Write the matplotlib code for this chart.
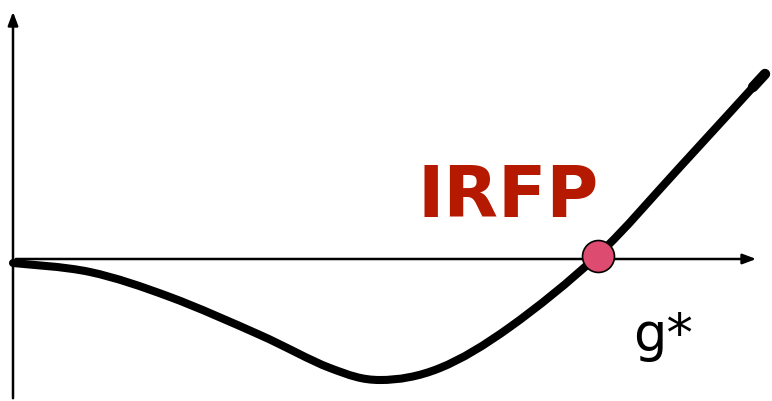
import numpy as np
import matplotlib
matplotlib.use("Agg")
import matplotlib.pyplot as plt
from matplotlib.path import Path
from matplotlib.patches import PathPatch

# curve (pixel-like coords, y grows downward)
curve_x = [13, 90, 170, 260, 330, 380, 440, 510, 598, 680, 765]
curve_y = [263, 272, 297, 335, 368, 380, 368, 327, 255, 167, 74]

fixed_point = (598, 256)
label_main = "IRFP"
label_g = "g*"


def smooth_path(xs, ys):
    # catmull-rom through the points, handed to matplotlib as bezier segments
    pts = np.column_stack([xs, ys]).astype(float)
    verts = [pts[0]]
    codes = [Path.MOVETO]
    for i in range(len(pts) - 1):
        p0 = pts[max(i - 1, 0)]
        p1 = pts[i]
        p2 = pts[i + 1]
        p3 = pts[min(i + 2, len(pts) - 1)]
        verts += [p1 + (p2 - p0) / 6, p2 - (p3 - p1) / 6, p2]
        codes += [Path.CURVE4] * 3
    return Path(verts, codes)


fig = plt.figure(figsize=(7.72, 4.01), dpi=100)
ax = fig.add_axes([0, 0, 1, 1])
ax.set_xlim(0, 772)
ax.set_ylim(401, 0)
ax.axis("off")

# axes arrows
ax.annotate("", xy=(13, 9), xytext=(13, 401),
            arrowprops=dict(arrowstyle="-|>,head_length=0.8,head_width=0.3", lw=1.8, color="black"))
ax.annotate("", xy=(759, 259), xytext=(13, 259),
            arrowprops=dict(arrowstyle="-|>,head_length=0.8,head_width=0.3", lw=1.8, color="black"))

ax.add_patch(PathPatch(smooth_path(curve_x, curve_y), fill=False, edgecolor="black",
                       lw=5.8, capstyle="round", joinstyle="round"))
# slightly heavier tip at the end of the stroke
ax.plot([753, 765], [87, 74], color="black", lw=7.5, solid_capstyle="round")

ax.plot(*fixed_point, "o", ms=23, mfc="#DD4C70", mec="black", mew=1.2, zorder=5)

ax.text(418, 217, label_main, color="#B51A00", fontsize=51, fontweight="bold",
        family="DejaVu Sans", ha="left", va="baseline")
ax.text(633, 351, label_g, color="black", fontsize=38, family="DejaVu Sans",
        ha="left", va="baseline")

fig.savefig("out.png", dpi=100)
